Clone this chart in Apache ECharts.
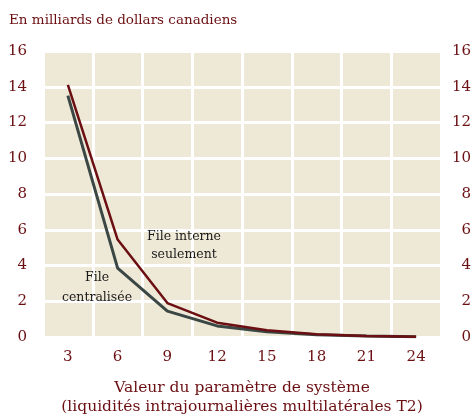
<!DOCTYPE html>
<html>
<head>
<meta charset="utf-8">
<script src="https://cdn.jsdelivr.net/npm/echarts@6/dist/echarts.min.js"></script>
<style>
  html, body { margin: 0; padding: 0; background: #fff; }
  #chart { width: 472px; height: 415px; }
</style>
</head>
<body>
<div id="chart"></div>
<script>
// valeurs
var categories = ["3", "6", "9", "12", "15", "18", "21", "24"];
var fileInterne = [14.1, 5.45, 1.9, 0.8, 0.38, 0.15, 0.06, 0.02];
var fileCentralisee = [13.5, 3.85, 1.45, 0.62, 0.3, 0.12, 0.05, 0.02];
var yTicks = { min: 0, max: 16, interval: 2 };

var red = "#6b0f12";
var font = "DejaVu Serif";

var myChart = echarts.init(document.getElementById("chart"));
var option = {
  animation: false,
  textStyle: { fontFamily: font },
  title: {
    text: "En milliards de dollars canadiens",
    left: 4,
    top: 8,
    textStyle: { color: red, fontSize: 13.5, fontWeight: "normal", fontFamily: font }
  },
  grid: {
    left: 43, right: 31, top: 51, bottom: 78,
    outerBoundsMode: "none",
    show: true, backgroundColor: "#eee8d6", borderWidth: 0
  },
  xAxis: {
    type: "category",
    data: categories,
    boundaryGap: true,
    axisLine: { show: false },
    axisTick: { show: false },
    axisLabel: { color: red, fontSize: 15, margin: 13, fontFamily: font },
    splitLine: { show: true, lineStyle: { color: "#fff", width: 3 } },
    name: "Valeur du paramètre de système\n(liquidités intrajournalières multilatérales T2)",
    nameLocation: "middle",
    nameGap: 41,
    nameTextStyle: { color: red, fontSize: 15.5, lineHeight: 19, fontFamily: font }
  },
  yAxis: [
    {
      type: "value",
      min: yTicks.min, max: yTicks.max, interval: yTicks.interval,
      axisLine: { show: false },
      axisTick: { show: false },
      axisLabel: { color: red, fontSize: 15, margin: 16, fontFamily: font },
      splitLine: { show: true, lineStyle: { color: "#fff", width: 3 } }
    },
    {
      type: "value",
      position: "right",
      min: yTicks.min, max: yTicks.max, interval: yTicks.interval,
      axisLine: { show: false },
      axisTick: { show: false },
      axisLabel: { color: red, fontSize: 15, margin: 30, align: "right", fontFamily: font },
      splitLine: { show: false }
    }
  ],
  series: [
    {
      name: "File centralisée",
      type: "line",
      data: fileCentralisee,
      symbol: "none",
      lineStyle: { color: "#3b4744", width: 3 }
    },
    {
      name: "File interne seulement",
      type: "line",
      data: fileInterne,
      symbol: "none",
      lineStyle: { color: red, width: 2.5 }
    }
  ],
  graphic: [
    {
      type: "text", x: 184, y: 228, z: 100,
      style: {
        text: "File interne\nseulement", fill: "#1a1a1a", textAlign: "center",
        fontFamily: font, fontSize: 12.5, lineHeight: 18
      }
    },
    {
      type: "text", x: 97, y: 268, z: 100,
      style: {
        text: "File\ncentralisée", fill: "#1a1a1a", textAlign: "center",
        fontFamily: font, fontSize: 12.5, lineHeight: 20
      }
    }
  ]
};
option && myChart.setOption(option);
</script>
</body>
</html>
